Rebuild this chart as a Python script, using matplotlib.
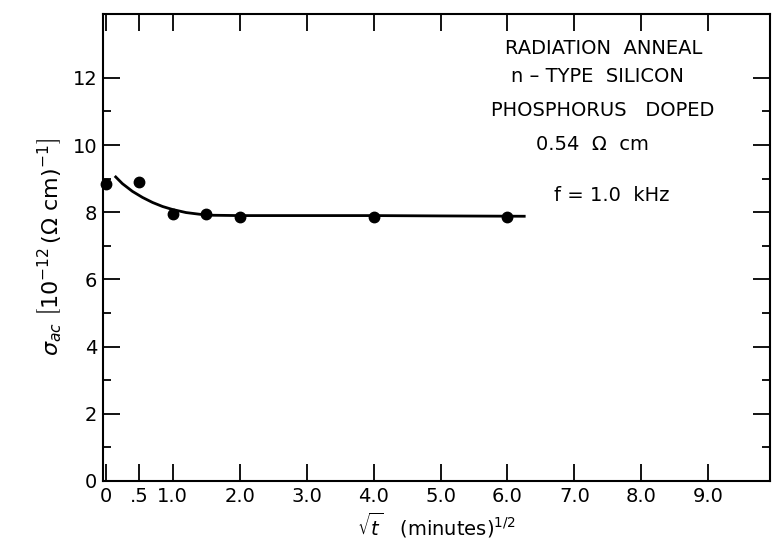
import matplotlib
matplotlib.use("Agg")
import matplotlib.pyplot as plt
from matplotlib.ticker import FixedLocator

# data points
sqrt_t = [0.0, 0.5, 1.0, 1.5, 2.0, 4.0, 6.0]
sigma_ac = [8.85, 8.9, 7.95, 7.95, 7.85, 7.85, 7.85]

# smooth guide curve
curve_x = [0.15, 0.25, 0.4, 0.55, 0.7, 0.85, 1.0, 1.2, 1.4, 1.6, 2.0, 3.0, 4.0, 5.0, 6.25]
curve_y = [9.05, 8.85, 8.62, 8.44, 8.29, 8.17, 8.08, 7.99, 7.94, 7.91, 7.90, 7.90, 7.90, 7.89, 7.88]

xtick_vals = [0, 0.5, 1, 2, 3, 4, 5, 6, 7, 8, 9]
xtick_labels = ["0", ".5", "1.0", "2.0", "3.0", "4.0", "5.0", "6.0", "7.0", "8.0", "9.0"]
ytick_vals = [0, 2, 4, 6, 8, 10, 12]
ytick_labels = ["0", "2", "4", "6", "8", "10", "12"]
yminor_vals = [1, 3, 5, 7, 9, 11]

annot_lines = ["RADIATION  ANNEAL", "n \u2013 TYPE  SILICON", "PHOSPHORUS   DOPED",
               "0.54  \u03a9  cm", "f = 1.0  kHz"]

plt.rcParams['font.family'] = ['DejaVu Sans']
plt.rcParams['mathtext.fontset'] = 'dejavusans'

fig = plt.figure(figsize=(7.74, 5.43), dpi=100)
ax = fig.add_axes([103/774, 1 - 481/543, (770-103)/774, (481-14)/543])

ax.plot(curve_x, curve_y, color='black', lw=2.0, zorder=2)
ax.plot(sqrt_t, sigma_ac, 'o', color='black', ms=7.5, zorder=3, clip_on=False)

ax.set_xlim(-0.04, 9.92)
ax.set_ylim(0, 13.9)

ax.set_xticks(xtick_vals)
ax.set_xticklabels(xtick_labels, fontsize=14)
ax.set_yticks(ytick_vals)
ax.set_yticklabels(ytick_labels, fontsize=14)
ax.yaxis.set_minor_locator(FixedLocator(yminor_vals))

ax.tick_params(which='major', direction='in', length=12, width=1.3,
               top=True, right=True, pad=4)
ax.tick_params(which='minor', direction='in', length=6, width=1.3,
               top=False, right=True)

for s in ax.spines.values():
    s.set_linewidth(1.5)

ys = [48, 77, 111, 145, 195]
xs = [604, 597, 603, 592, 612]
for t, xp, yp in zip(annot_lines, xs, ys):
    fig.text(xp/774, 1 - yp/543, t, ha='center', va='center', fontsize=14)

ax.set_xlabel(r'$\sqrt{t}$   (minutes)$^{1/2}$', fontsize=14, labelpad=4)
ax.set_ylabel(r'$\sigma_{ac}\ \left[10^{-12}\,(\Omega\ \mathrm{cm})^{-1}\right]$', fontsize=16, labelpad=6)

fig.savefig('out.png', dpi=100)
